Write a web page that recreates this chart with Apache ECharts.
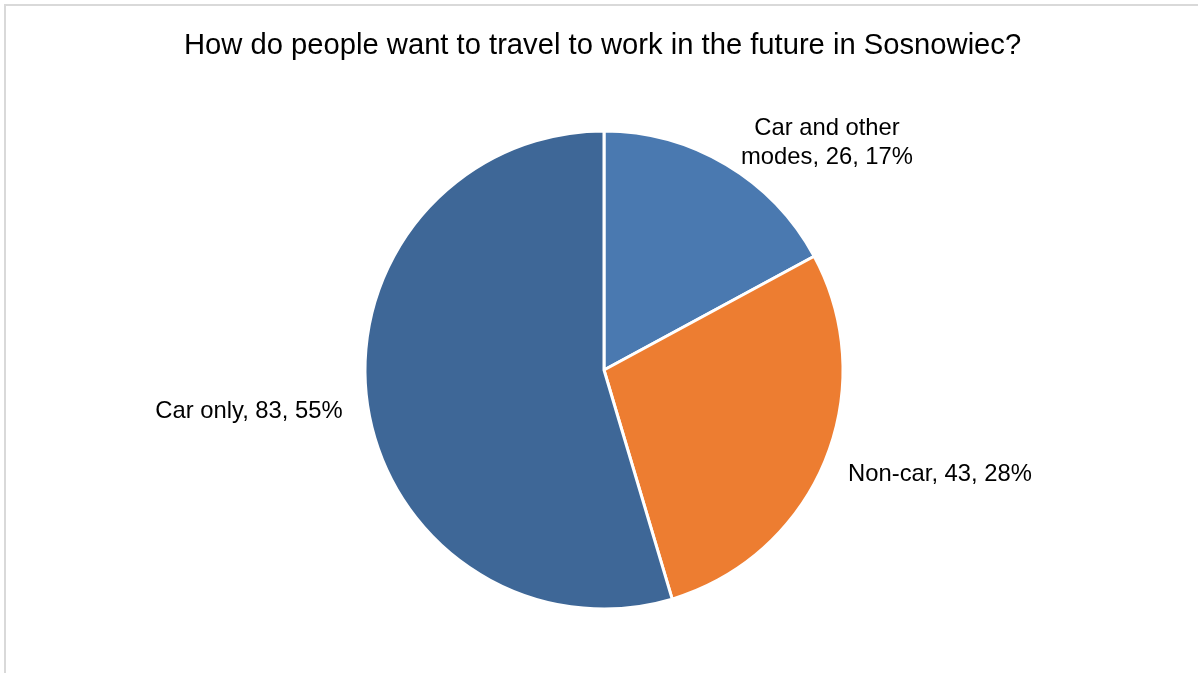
<!DOCTYPE html>
<html>
<head>
<meta charset="utf-8">
<script src="https://cdn.jsdelivr.net/npm/echarts@6/dist/echarts.min.js"></script>
<style>
html,body{margin:0;padding:0;background:#fff;}
#chart{width:1198px;height:673px;}
</style>
</head>
<body>
<div id="chart"></div>
<script>
var titleText = 'How do people want to travel to work in the future in Sosnowiec?';
var categories = ['Car and other\nmodes', 'Non-car', 'Car only'];
var values = [26, 43, 83];
var percents = [17, 28, 55];
var colors = ['#4a79b0', '#ed7d31', '#3e6797'];

var labelPos = [[827, 143], [940, 474], [249, 411]];

var chart = echarts.init(document.getElementById('chart'), null, {renderer: 'canvas'});
var data = categories.map(function (c, i) {
  return {name: c, value: values[i], itemStyle: {color: colors[i]}};
});
chart.setOption({
  animation: false,
  backgroundColor: '#ffffff',
  title: {
    text: titleText,
    left: 179,
    top: 26,
    textStyle: {fontFamily: 'Liberation Sans, Arial, sans-serif', fontSize: 29.2, fontWeight: 'normal', color: '#000'}
  },
  graphic: [{
    type: 'rect',
    shape: {x: 5, y: 5, width: 1250, height: 720},
    style: {fill: 'none', stroke: '#d9d9d9', lineWidth: 2},
    silent: true
  }],
  series: [{
    type: 'pie',
    center: [604, 370],
    radius: [0, 239],
    startAngle: 90,
    clockwise: true,
    data: data,
    itemStyle: {borderColor: '#ffffff', borderWidth: 3},
    label: {
      show: true,
      position: 'outside',
      fontFamily: 'Liberation Sans, Arial, sans-serif',
      fontSize: 23.8,
      lineHeight: 29,
      color: '#000',
      align: 'center',
      formatter: function (p) {
        return p.name + ', ' + p.value + ', ' + percents[p.dataIndex] + '%';
      }
    },
    labelLine: {show: false},
    labelLayout: function (p) {
      var pos = labelPos[p.dataIndex];
      return {x: pos[0], y: pos[1], align: 'center', verticalAlign: 'middle'};
    }
  }]
});
</script>
</body>
</html>
